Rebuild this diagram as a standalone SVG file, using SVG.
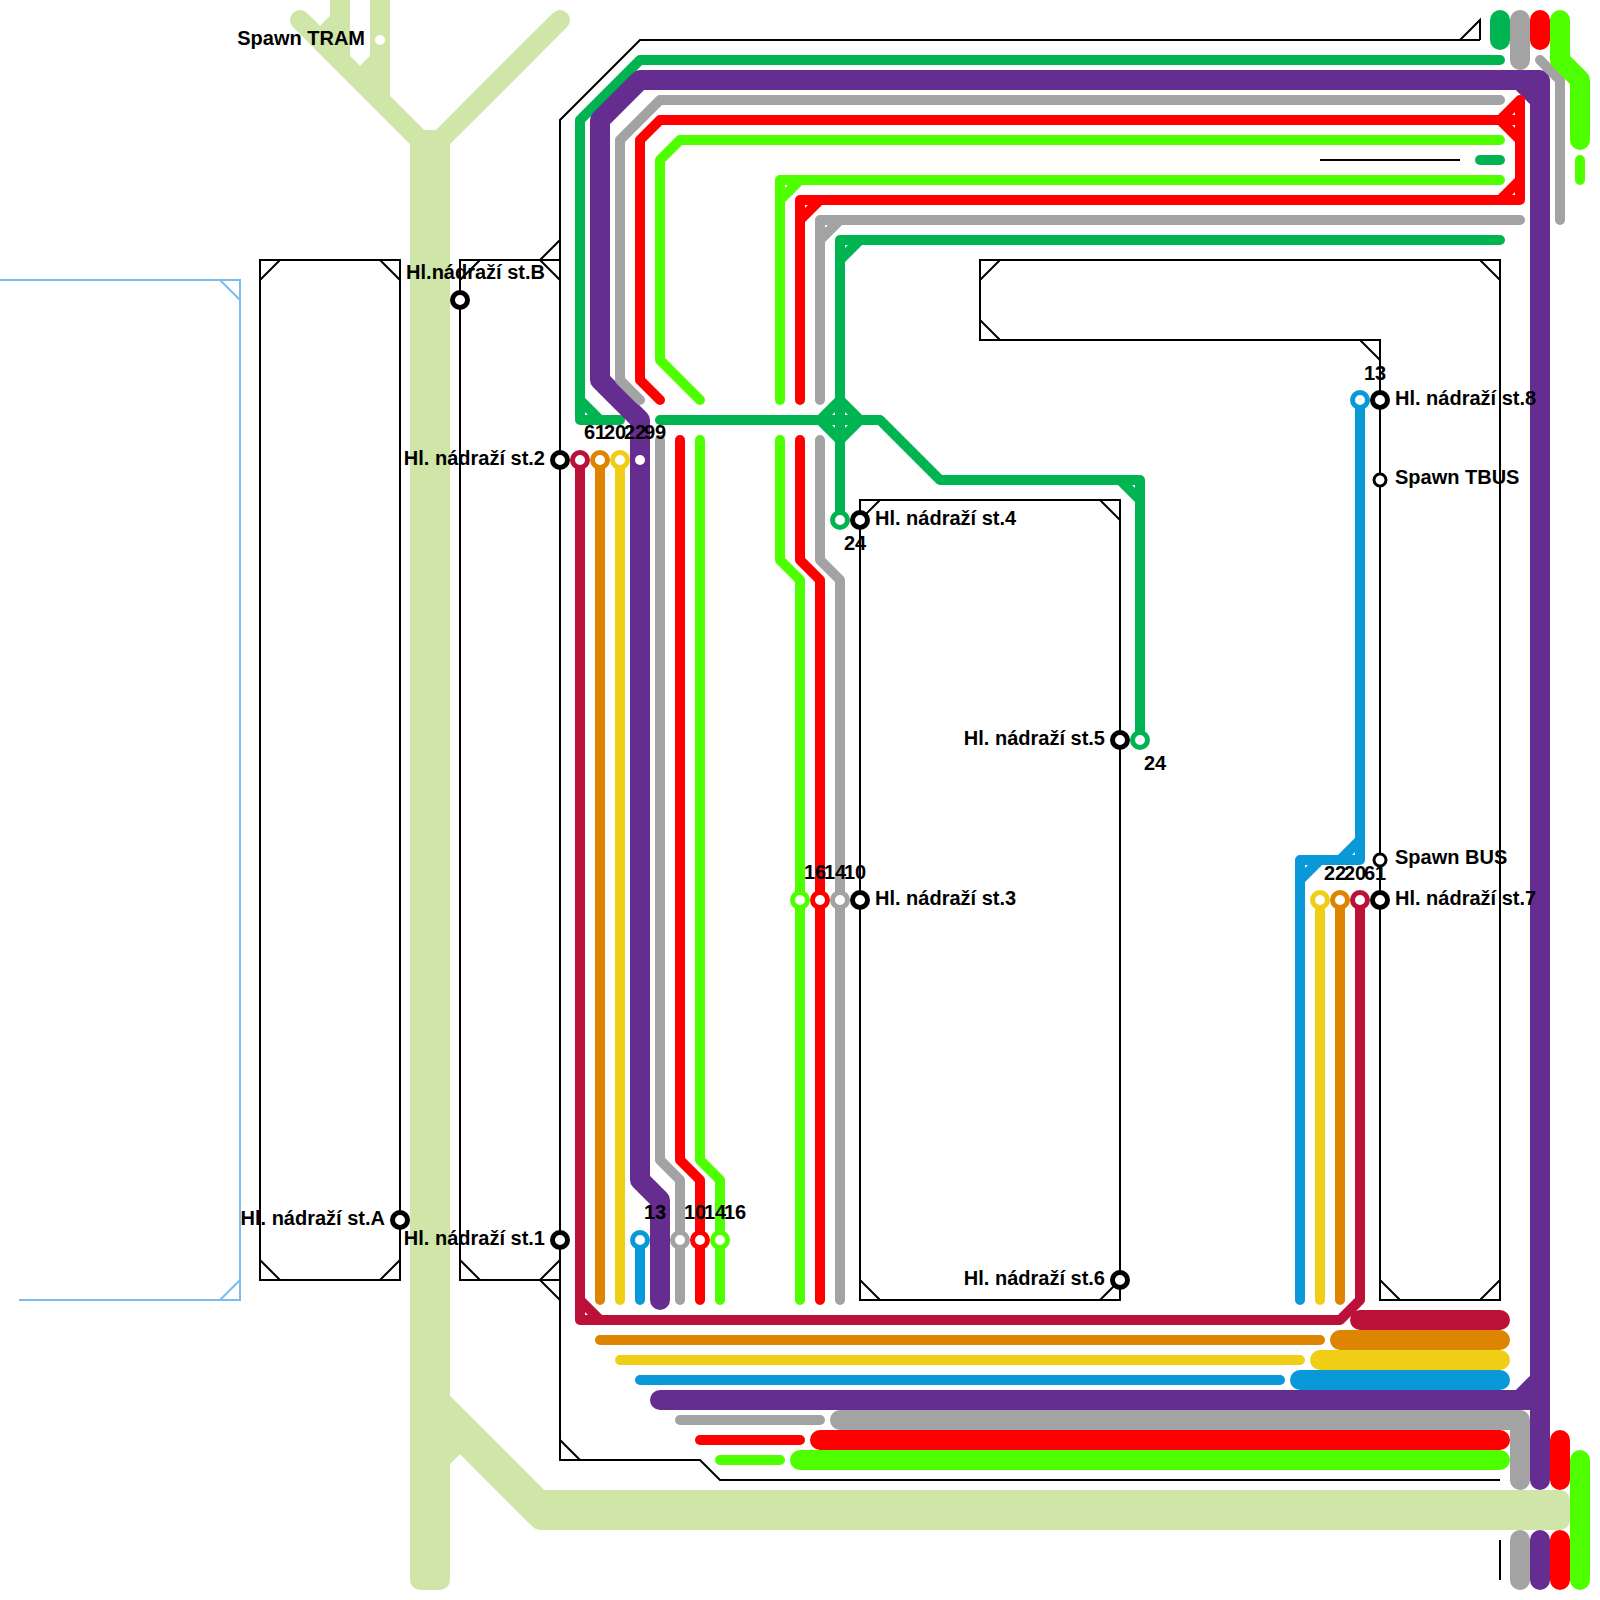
<svg xmlns="http://www.w3.org/2000/svg" width="1600" height="1600" viewBox="0 0 1600 1600">
<style>
path{fill:none;stroke-linecap:round;stroke-linejoin:round}
.road{stroke:#d0e5a8;stroke-width:20}
.roadb{stroke:#d0e5a8;stroke-width:20;stroke-linecap:butt}
.t{stroke-width:10}
.m{stroke-width:20}
.k{stroke:#000;stroke-width:2;stroke-linecap:butt;stroke-linejoin:miter}
.lb{stroke:#7abcec;stroke-width:2;stroke-linecap:butt;stroke-linejoin:miter}
.gr{stroke:#00b451}.pu{stroke:#662d91}.ga{stroke:#a3a3a3}.re{stroke:#ff0000}.li{stroke:#4eff00}
.cr{stroke:#bb1138}.or{stroke:#dd8500}.ye{stroke:#f0ce15}.bl{stroke:#0998d8}
circle{fill:#fff}
.st{stroke:#000;stroke-width:5}
.sp{stroke:#000;stroke-width:3}
.ri{stroke-width:5}
text{font-family:"Liberation Sans",Arial,sans-serif;font-weight:bold;font-size:20px;fill:#000}
.e{text-anchor:end}
</style>
<g id="background">
<path class="lb" d="M0,280H240V1300H19M220,280L240,300M240,1280L220,1300"/>
<polygon fill="#d0e5a8" points="410,144 424,130 436,130 450,144 450,1500 410,1500"/>
<path class="road" d="M300,20L430,150L560,20M340,0V60L360,80M380,0V100M340,20L320,40M380,60L360,80"/>
<path class="road" d="M420,1400V1580M440,1400V1580M440,1400L540,1500H1560M440,1420L540,1520H1560M440,1460L460,1440"/>
<path class="roadb" d="M430,1400V1590M540,1510H1570"/>
</g>
<g id="connectors">
<path class="k" d="M1480,40H640L560,120V1460H700L720,1480H1500M1460,40L1480,20V40M560,1440L580,1460"/>
<path class="k" d="M1320,160H1460M1500,1540V1580"/>
<path class="k" d="M260,260H400V1280H260ZM260,280L280,260M380,260L400,280M260,1260L280,1280M380,1280L400,1260"/>
<path class="k" d="M560,260H460V1280H560M460,280L480,260M540,260L560,280M540,260L560,240M460,1260L480,1280M540,1280L560,1260M540,1280L560,1300"/>
<path class="k" d="M860,500H1120V1300H860ZM860,520L880,500M1100,500L1120,520M860,1280L880,1300M1100,1300L1120,1280"/>
<path class="k" d="M980,260H1500V1300H1380V340H980ZM980,280L1000,260M980,320L1000,340M1360,340L1380,360M1480,260L1500,280M1380,1280L1400,1300M1480,1300L1500,1280"/>

<path class="gr t" d="M1500,60H640L580,120V420H620M580,400L600,420"/>
<path class="gr t" d="M660,420H880L940,480H1140V740M1120,480L1140,500"/>
<path class="gr t" d="M1500,240H840V520M840,260L860,240"/>
<path class="gr t" d="M820,420L840,400L860,420L840,440Z"/>
<path class="gr t" d="M1480,160H1500"/>
<path class="gr m" d="M1500,20V40"/>

<path class="pu m" d="M660,1300V1200L640,1180V420L600,380V120L640,80H1540V1480M1520,80L1540,100"/>
<path class="pu m" d="M660,1400H1540M1520,1400L1540,1380M1540,1540V1580"/>

<path class="ga t" d="M1500,100H660L620,140V380L640,400"/>
<path class="ga t" d="M660,440V1160L680,1180V1300"/>
<path class="ga t" d="M1520,220H820V400M820,240L840,220"/>
<path class="ga t" d="M820,440V560L840,580V1300"/>
<path class="ga t" d="M1540,60L1560,80V220"/>
<path class="ga t" d="M680,1420H820"/>
<path class="ga m" d="M840,1420H1520V1480M1520,20V60M1520,1540V1580"/>

<path class="re t" d="M660,400L640,380V140L660,120H1520M1500,120L1520,100V200H800V400M1500,120L1520,140M1500,200L1520,180M800,220L820,200"/>
<path class="re t" d="M680,440V1160L700,1180V1300"/>
<path class="re t" d="M800,440V560L820,580V1300"/>
<path class="re t" d="M700,1440H800"/>
<path class="re m" d="M820,1440H1500M1540,20V40M1560,1440V1480M1560,1540V1580"/>

<path class="li t" d="M1500,140H680L660,160V360L700,400"/>
<path class="li t" d="M1500,180H780V400M780,200L800,180"/>
<path class="li t" d="M700,440V1160L720,1180V1300"/>
<path class="li t" d="M780,440V560L800,580V1300"/>
<path class="li t" d="M720,1460H780M1580,160V180"/>
<path class="li m" d="M800,1460H1500M1560,20V60L1580,80V140M1580,1460V1580"/>

<path class="cr t" d="M580,460V1320H1340L1360,1300V900M580,1300L600,1320"/>
<path class="or t" d="M600,460V1300M600,1340H1320M1340,900V1300"/>
<path class="ye t" d="M620,460V1300M620,1360H1300M1320,900V1300"/>
<path class="bl t" d="M640,1240V1300M640,1380H1280M1360,400V860H1300V1300M1340,860L1360,840M1300,880L1320,860"/>
<path class="cr m" d="M1360,1320H1500"/>
<path class="or m" d="M1340,1340H1500"/>
<path class="ye m" d="M1320,1360H1500"/>
<path class="bl m" d="M1300,1380H1500"/>
</g>

<g id="spawn-tram"><circle cx="380" cy="40" r="5"/><text class="e" x="365" y="45">Spawn TRAM</text></g>
<g id="st-b"><circle class="st" cx="460" cy="300" r="7.5"/><text class="e" x="545" y="279">Hl.nádraží st.B</text></g>
<g id="st-a"><circle class="st" cx="400" cy="1220" r="7.5"/><text class="e" x="385" y="1225">Hl. nádraží st.A</text></g>
<g id="st-1"><circle class="st" cx="560" cy="1240" r="7.5"/><text class="e" x="545" y="1245">Hl. nádraží st.1</text></g>
<g id="st-2"><circle class="st" cx="560" cy="460" r="7.5"/><text class="e" x="545" y="465">Hl. nádraží st.2</text></g>
<g id="st-3"><circle class="st" cx="860" cy="900" r="7.5"/><text x="875" y="905">Hl. nádraží st.3</text></g>
<g id="st-4"><circle class="st" cx="860" cy="520" r="7.5"/><text x="875" y="525">Hl. nádraží st.4</text></g>
<g id="st-5"><circle class="st" cx="1120" cy="740" r="7.5"/><text class="e" x="1105" y="745">Hl. nádraží st.5</text></g>
<g id="st-6"><circle class="st" cx="1120" cy="1280" r="7.5"/><text class="e" x="1105" y="1285">Hl. nádraží st.6</text></g>
<g id="st-7"><circle class="st" cx="1380" cy="900" r="7.5"/><text x="1395" y="905">Hl. nádraží st.7</text></g>
<g id="st-8"><circle class="st" cx="1380" cy="400" r="7.5"/><text x="1395" y="405">Hl. nádraží st.8</text></g>
<g id="spawn-tbus"><circle class="sp" cx="1380" cy="480" r="6"/><text x="1395" y="484">Spawn TBUS</text></g>
<g id="spawn-bus"><circle class="sp" cx="1380" cy="860" r="6"/><text x="1395" y="864">Spawn BUS</text></g>

<g id="stop-61a"><circle class="ri cr" cx="580" cy="460" r="7.5"/><text x="584" y="439">61</text></g>
<g id="stop-20a"><circle class="ri or" cx="600" cy="460" r="7.5"/><text x="604" y="439">20</text></g>
<g id="stop-22a"><circle class="ri ye" cx="620" cy="460" r="7.5"/><text x="624" y="439">22</text></g>
<g id="stop-99"><circle cx="640" cy="460" r="5"/><text x="644" y="439">99</text></g>
<g id="stop-13a"><circle class="ri bl" cx="640" cy="1240" r="7.5"/><text x="644" y="1219">13</text></g>
<g id="stop-10a"><circle class="ri ga" cx="680" cy="1240" r="7.5"/><text x="684" y="1219">10</text></g>
<g id="stop-14a"><circle class="ri re" cx="700" cy="1240" r="7.5"/><text x="704" y="1219">14</text></g>
<g id="stop-16a"><circle class="ri li" cx="720" cy="1240" r="7.5"/><text x="724" y="1219">16</text></g>
<g id="stop-16b"><circle class="ri li" cx="800" cy="900" r="7.5"/><text x="804" y="879">16</text></g>
<g id="stop-14b"><circle class="ri re" cx="820" cy="900" r="7.5"/><text x="824" y="879">14</text></g>
<g id="stop-10b"><circle class="ri ga" cx="840" cy="900" r="7.5"/><text x="844" y="879">10</text></g>
<g id="stop-24a"><circle class="ri gr" cx="840" cy="520" r="7.5"/><text x="844" y="550">24</text></g>
<g id="stop-24b"><circle class="ri gr" cx="1140" cy="740" r="7.5"/><text x="1144" y="770">24</text></g>
<g id="stop-13b"><circle class="ri bl" cx="1360" cy="400" r="7.5"/><text x="1364" y="380">13</text></g>
<g id="stop-22b"><circle class="ri ye" cx="1320" cy="900" r="7.5"/><text x="1324" y="880">22</text></g>
<g id="stop-20b"><circle class="ri or" cx="1340" cy="900" r="7.5"/><text x="1344" y="880">20</text></g>
<g id="stop-61b"><circle class="ri cr" cx="1360" cy="900" r="7.5"/><text x="1364" y="880">61</text></g>
</svg>
